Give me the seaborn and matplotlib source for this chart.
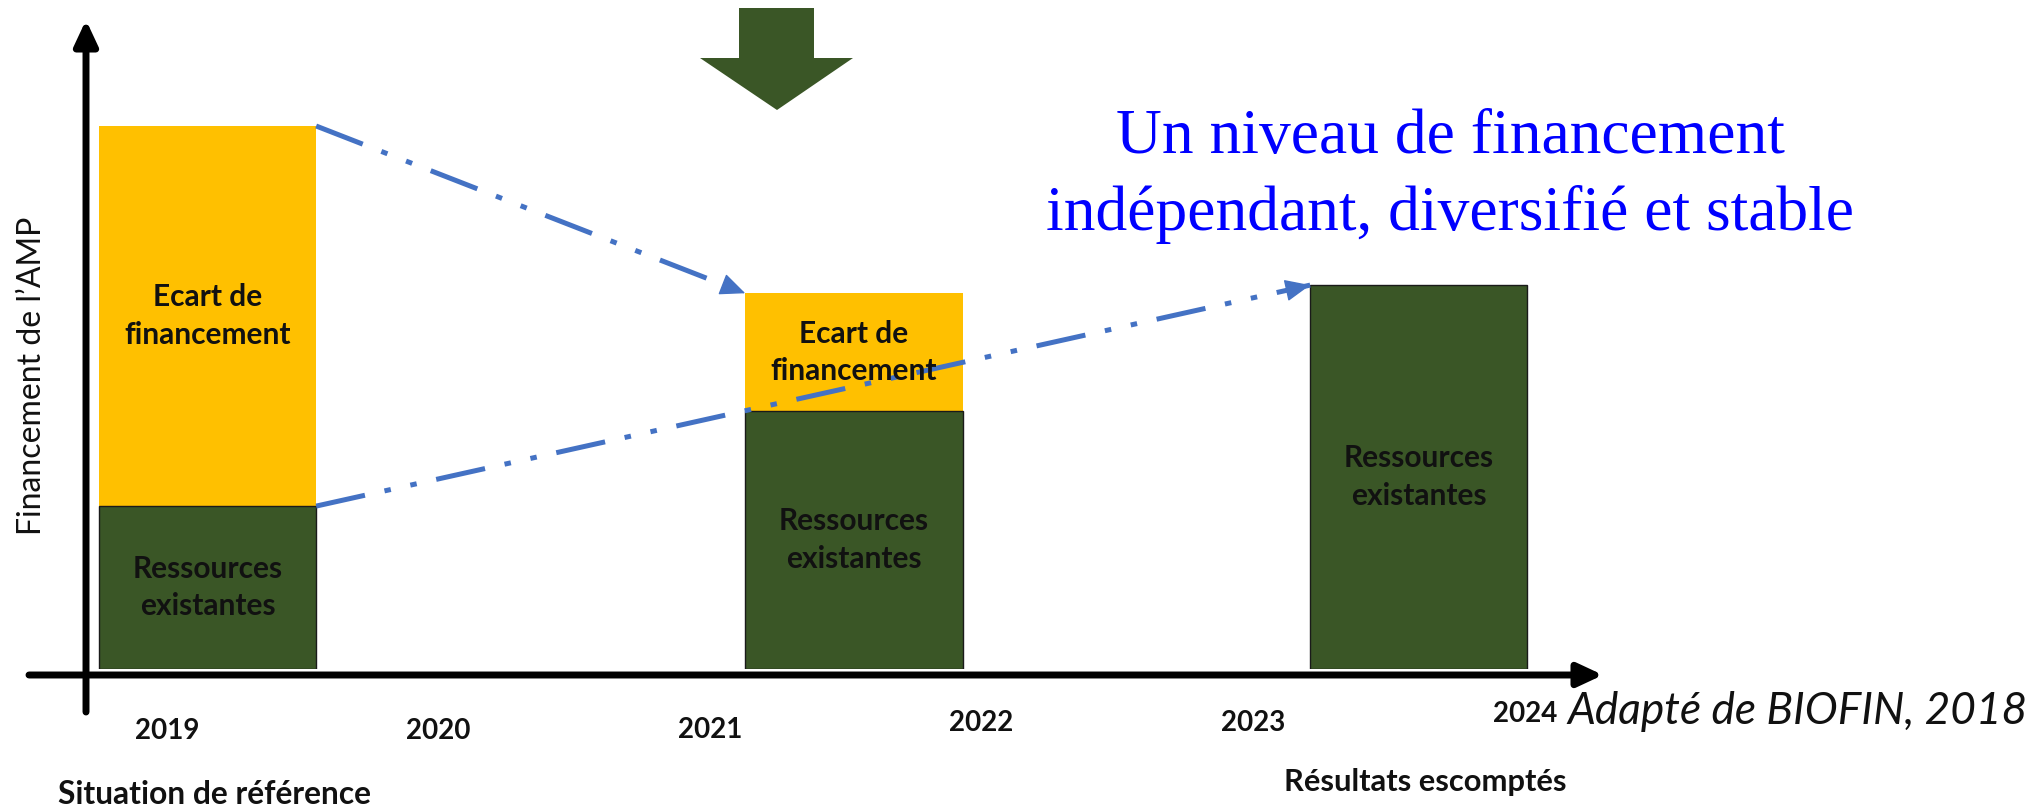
import numpy as np
import pandas as pd
import matplotlib
matplotlib.use("Agg")
import matplotlib.pyplot as plt
from matplotlib.patches import Polygon
from matplotlib.transforms import Affine2D, blended_transform_factory
import seaborn as sns

# annees de l'axe horizontal
annees = [2019, 2020, 2021, 2022, 2023, 2024]
# position des 3 barres (en annees) et montants (unites arbitraires)
pos_barres = [2019.15, 2021.53, 2023.61]
ressources = [30.0, 47.5, 70.7]
ecart = [70.0, 21.7, 0.0]
txt_ecart = "Ecart de\nfinancement"
txt_ress = "Ressources\nexistantes"

JAUNE = "#FFC000"
VERT = "#3A5626"
BLEU = "#4472C4"
NOIR = "#111111"

W, H = 2044, 807
sns.set_style("white")
plt.rcParams["font.family"] = ["Lato", "DejaVu Sans"]

fig = plt.figure(figsize=(W / 100, H / 100), dpi=100)
base = 669  # ligne de base des barres (px depuis le haut)
ax = fig.add_axes([0, (H - base) / H, 1, base / H])
# repere en pixels depuis le haut de l'image, pour les decorations
px = Affine2D().scale(1 / W, -1 / H).translate(0, 1) + fig.transFigure

df = pd.DataFrame({"pos": pos_barres, "ressources": ressources, "ecart": ecart})
df["total"] = df["ressources"] + df["ecart"]

largeur = 0.8
w_rel = largeur / np.min(np.diff(pos_barres))
sns.barplot(data=df, x="pos", y="total", native_scale=True, width=w_rel,
            color=JAUNE, saturation=1, errorbar=None, linewidth=0, ax=ax)
sns.barplot(data=df, x="pos", y="ressources", native_scale=True, width=w_rel,
            color=VERT, saturation=1, errorbar=None, edgecolor="#1a1a1a",
            linewidth=1, ax=ax)
ax.set_xlim(2018.386, 2025.912)
ax.set_ylim(0, base / 5.43)
ax.set_axis_off()

# textes dans les barres
for p, r, e in zip(df["pos"], df["ressources"], df["ecart"]):
    ax.text(p, r / 2, txt_ress, ha="center", va="center", fontsize=21.5,
            fontweight="bold", color=NOIR, linespacing=1.4)
    if e > 0:
        ax.text(p, r + e / 2, txt_ecart, ha="center", va="center", fontsize=21.5,
                fontweight="bold", color=NOIR, linespacing=1.4)

# annees sous l'axe
y_annees = [731, 731, 730, 723, 723, 714]
tr_annee = blended_transform_factory(ax.transData, px)
for a, y in zip(annees, y_annees):
    ax.text(a, y, str(a), transform=tr_annee, ha="center", va="center",
            fontsize=20, fontweight="bold", color=NOIR, clip_on=False)


def fleche_pointillee(x0, y0, x1, y1):
    ax.plot([x0, x1], [y0, y1], color=BLEU, lw=3.6,
            dashes=(10, 4, 1.3, 4, 1.3, 4))
    a = ax.transData.transform([(x0, y0), (x1, y1)])
    d = a[1] - a[0]
    d = d / np.hypot(d[0], d[1]) * 14
    ax.annotate("", xy=(x1, y1), xytext=(-d[0], -d[1]), textcoords="offset points",
                arrowprops=dict(arrowstyle="-|>,head_length=0.8,head_width=0.35",
                                color=BLEU, lw=1, shrinkA=0, shrinkB=0,
                                mutation_scale=20))


tot = df["total"].tolist()
fleche_pointillee(pos_barres[0] + largeur / 2, tot[0], pos_barres[1] - largeur / 2, tot[1])
fleche_pointillee(pos_barres[0] + largeur / 2, ressources[0], pos_barres[2] - largeur / 2, tot[2])

# axes dessines a la main (fleches noires)
fl = dict(arrowstyle="-|>,head_length=0.75,head_width=0.35", color="black",
          lw=5, shrinkA=0, shrinkB=0, mutation_scale=20)
ax.annotate("", xy=(86, 20), xycoords=px, xytext=(86, 712), textcoords=px,
            arrowprops=fl, annotation_clip=False)
ax.annotate("", xy=(1603, 675), xycoords=px, xytext=(29, 675), textcoords=px,
            arrowprops=fl, annotation_clip=False)

# grosse fleche verte en haut
fig.add_artist(Polygon([(739, 8), (814, 8), (814, 58), (853, 58), (777, 110),
                        (700, 58), (739, 58)], closed=True, transform=px,
                       facecolor=VERT, edgecolor="none"))


def ajuste(t, cible, vertical=False):
    r = fig.canvas.get_renderer()
    bb = t.get_window_extent(r)
    taille = bb.height if vertical else bb.width
    t.set_fontsize(t.get_fontsize() * cible / taille)


t = fig.text(32, 376, "Financement de l\u2019AMP", transform=px, rotation=90,
             ha="center", va="center", fontsize=20, color=NOIR)
ajuste(t, 319, vertical=True)
t = fig.text(214, 795, "Situation de référence", transform=px, ha="center",
             va="center", fontsize=20, fontweight="bold", color=NOIR)
ajuste(t, 314)
t = fig.text(1425, 782, "Résultats escomptés", transform=px, ha="center",
             va="center", fontsize=20, fontweight="bold", color=NOIR)
ajuste(t, 283)
t = fig.text(1797, 711, "Adapté de BIOFIN, 2018", transform=px, ha="center",
             va="center", fontsize=28, fontstyle="italic", color=NOIR)
ajuste(t, 460)

t = fig.text(1450, 153, "Un niveau de financement", transform=px, ha="center",
             va="baseline", fontsize=46, family="Liberation Serif", color="#0000FF")
ajuste(t, 669)
t = fig.text(1450, 230, "indépendant, diversifié et stable", transform=px,
             ha="center", va="baseline", fontsize=46, family="Liberation Serif",
             color="#0000FF")
ajuste(t, 808)

fig.savefig("out.png", dpi=100)
